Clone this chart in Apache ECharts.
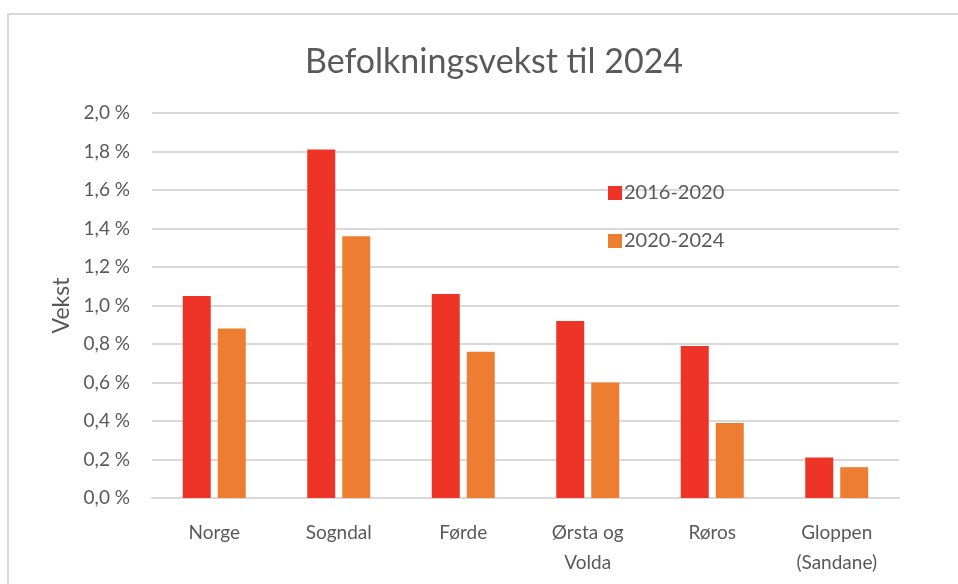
<!DOCTYPE html>
<html>
<head>
<meta charset="utf-8">
<script src="https://cdn.jsdelivr.net/npm/echarts@6/dist/echarts.min.js"></script>
<style>
  html, body { margin: 0; padding: 0; background: #fff; }
  #chart { width: 958px; height: 584px; }
</style>
</head>
<body>
<div id="chart"></div>
<script>
// ---- 数据 ----
const categories = ["Norge", "Sogndal", "Førde", "Ørsta og\nVolda", "Røros", "Gloppen\n(Sandane)"];
const seriesNames = ["2016-2020", "2020-2024"];
const vekst1620 = [1.05, 1.81, 1.06, 0.92, 0.79, 0.21];
const vekst2024 = [0.88, 1.36, 0.76, 0.60, 0.39, 0.16];
const colors = ["#EE3427", "#ED7D31"];

const font = "Lato, 'Open Sans', sans-serif";
const textColor = "#595959";

const chart = echarts.init(document.getElementById("chart"));

chart.setOption({
  animation: false,
  textStyle: { fontFamily: font },
  title: {
    text: "Befolkningsvekst til 2024",
    left: 489, top: 40, textAlign: "center",
    textStyle: { fontSize: 34, fontWeight: "normal", color: textColor, fontFamily: font },
  },
  graphic: [
    // 外框
    { type: "polyline", shape: { points: [[8, 584], [8, 14], [958, 14]] },
      style: { stroke: "#d9d9d9", lineWidth: 2, fill: null } },
  ],
  legend: {
    orient: "vertical",
    left: 603, top: 178,
    itemWidth: 14, itemHeight: 14, itemGap: 28,
    icon: "rect",
    textStyle: { fontSize: 20, color: textColor, fontFamily: font, padding: [0, 0, 0, -3] },
    data: seriesNames,
  },
  grid: { left: 152, right: 59, top: 113, bottom: 86 },
  xAxis: {
    type: "category",
    data: categories,
    axisLine: { lineStyle: { color: "#d9d9d9", width: 2 } },
    axisTick: { show: false },
    axisLabel: { fontSize: 19, color: textColor, margin: 20, lineHeight: 30, fontFamily: font },
  },
  yAxis: {
    type: "value",
    min: 0, max: 2, interval: 0.2,
    name: "Vekst",
    nameLocation: "middle",
    nameGap: 76,
    nameRotate: 90,
    nameTextStyle: { fontSize: 23, color: textColor, fontFamily: font },
    axisLine: { show: false },
    axisTick: { show: false },
    splitLine: { lineStyle: { color: "#d9d9d9", width: 2 } },
    axisLabel: {
      fontSize: 19, color: textColor, margin: 22, fontFamily: font,
      formatter: v => v.toFixed(1).replace(".", ",") + " %",
    },
  },
  series: [
    { name: seriesNames[0], type: "bar", data: vekst1620, barWidth: 28, barGap: "25%",
      itemStyle: { color: colors[0] } },
    { name: seriesNames[1], type: "bar", data: vekst2024, barWidth: 28,
      itemStyle: { color: colors[1] } },
  ],
});
</script>
</body>
</html>
